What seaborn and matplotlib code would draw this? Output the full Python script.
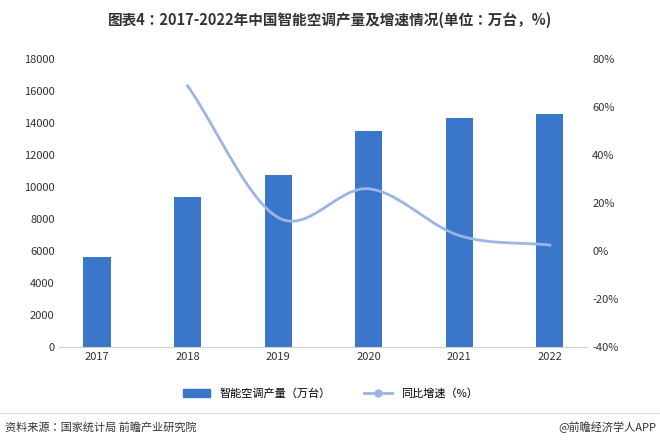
import numpy as np
import pandas as pd
import seaborn as sns
import matplotlib.pyplot as plt
from matplotlib import font_manager
from matplotlib.lines import Line2D
from matplotlib.patches import Patch

names = {f.name for f in font_manager.fontManager.ttflist}
cjk = [n for n in ['Noto Sans CJK SC', 'Noto Sans CJK JP', 'Noto Sans CJK TC', 'Noto Sans CJK KR'] if n in names]
print(cjk, sorted(n for n in names if 'CJK' in n or 'Noto' in n))
plt.rcParams['font.family'] = 'sans-serif'
plt.rcParams['font.sans-serif'] = cjk + ['DejaVu Sans']

years = ['2017', '2018', '2019', '2020', '2021', '2022']
output = [5600, 9400, 10750, 13500, 14300, 14550]  # 万台
growth_years = ['2018', '2019', '2020', '2021', '2022']
growth = [69, 14, 26, 6.5, 2.5]  # %

bar_color = '#3a76c9'
line_color = '#9bb5e8'


def smooth(x, y, n=30):
    # catmull-rom spline through the points, only for drawing
    x = np.asarray(x, float)
    y = np.asarray(y, float)
    px = np.concatenate([[2 * x[0] - x[1]], x, [2 * x[-1] - x[-2]]])
    py = np.concatenate([[2 * y[0] - y[1]], y, [2 * y[-1] - y[-2]]])
    xs, ys = [], []
    for i in range(1, len(px) - 2):
        t = np.linspace(0, 1, n)
        for p, out in ((px, xs), (py, ys)):
            p0, p1, p2, p3 = p[i - 1], p[i], p[i + 1], p[i + 2]
            out.extend(0.5 * (2 * p1 + (-p0 + p2) * t + (2 * p0 - 5 * p1 + 4 * p2 - p3) * t ** 2
                              + (-p0 + 3 * p1 - 3 * p2 + p3) * t ** 3))
    return np.array(xs), np.array(ys)


df = pd.DataFrame({'year': years, 'output': output})

fig = plt.figure(figsize=(6.6, 4.46), dpi=100)
ax = fig.add_axes([0.09, 0.222, 0.80, 0.645])
sns.barplot(data=df, x='year', y='output', color=bar_color, width=0.3, ax=ax, saturation=1)
ax.set_ylim(0, 18000)
ax.set_yticks(range(0, 18001, 2000))
ax.set_xlabel('')
ax.set_ylabel('')
for s in ['top', 'right', 'left']:
    ax.spines[s].set_visible(False)
ax.spines['bottom'].set_color('#d0d0d0')
ax.tick_params(length=0, labelsize=8, colors='#333333')

ax2 = ax.twinx()
gx = [years.index(y) for y in growth_years]
sx, sy = smooth(gx, growth)
ax2.plot(sx, sy, color=line_color, lw=2)
ax2.set_ylim(-40, 80)
ax2.set_yticks(range(-40, 81, 20))
ax2.set_yticklabels([f'{v}%' for v in range(-40, 81, 20)])
for s in ax2.spines.values():
    s.set_visible(False)
ax2.tick_params(length=0, labelsize=8, colors='#333333')

fig.text(0.5, 0.955, '图表4：2017-2022年中国智能空调产量及增速情况(单位：万台，%)',
         ha='center', va='center', fontsize=10.5, fontweight='bold', color='#333333')
handles = [Patch(color=bar_color), Line2D([], [], color=line_color, lw=2, marker='o', ms=5)]
fig.legend(handles, ['智能空调产量（万台）', '同比增速（%）'], loc='center', bbox_to_anchor=(0.5, 0.118),
           ncol=2, frameon=False, fontsize=8, columnspacing=3, handlelength=2.5)
fig.add_artist(Line2D([0, 1], [0.075, 0.075], color='#dddddd', lw=0.8))
fig.text(0.008, 0.042, '资料来源：国家统计局 前瞻产业研究院', fontsize=8, va='center', color='#333333')
fig.text(0.995, 0.042, '@前瞻经济学人APP', fontsize=8, va='center', ha='right', color='#333333')

fig.savefig('out.png', dpi=100)
